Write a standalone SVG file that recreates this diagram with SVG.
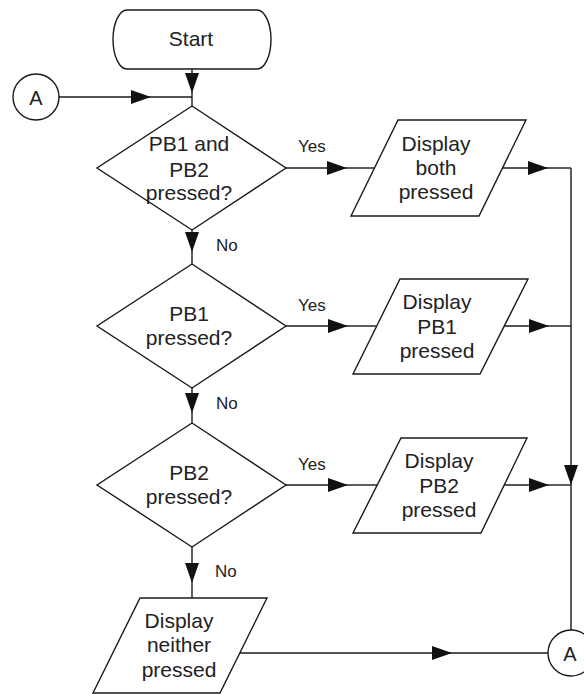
<svg xmlns="http://www.w3.org/2000/svg" width="584" height="694" viewBox="0 0 584 694">
<defs>
<marker id="arr" markerUnits="userSpaceOnUse" markerWidth="21" markerHeight="14" refX="20" refY="7" orient="auto" overflow="visible">
<path d="M0,0 L20,7 L0,14 Z" fill="#111"/>
</marker>
<style>
.s{fill:#fff;stroke:#1a1a1a;stroke-width:1.4}
.c{fill:none;stroke:#1a1a1a;stroke-width:1.4}
.t{font-family:"Liberation Sans",Arial,sans-serif;font-size:21px;fill:#222;text-anchor:middle}
.l{font-family:"Liberation Sans",Arial,sans-serif;font-size:17px;fill:#222}
</style>
</defs>
<rect width="584" height="694" fill="#fff"/>
<g id="connectors">
<line class="c" x1="192" y1="69" x2="192" y2="93" marker-end="url(#arr)"/>
<line class="c" x1="192" y1="93" x2="192" y2="106"/>
<line class="c" x1="59" y1="97" x2="151" y2="97" marker-end="url(#arr)"/>
<line class="c" x1="151" y1="97" x2="192" y2="97"/>
<line class="c" x1="192" y1="230" x2="192" y2="252" marker-end="url(#arr)"/>
<line class="c" x1="192" y1="252" x2="192" y2="264"/>
<line class="c" x1="192" y1="388" x2="192" y2="413" marker-end="url(#arr)"/>
<line class="c" x1="192" y1="413" x2="192" y2="423"/>
<line class="c" x1="192" y1="547" x2="192" y2="583" marker-end="url(#arr)"/>
<line class="c" x1="192" y1="583" x2="192" y2="598"/>
<line class="c" x1="286" y1="168" x2="347" y2="168" marker-end="url(#arr)"/>
<line class="c" x1="347" y1="168" x2="375" y2="168"/>
<line class="c" x1="286" y1="326" x2="348" y2="326" marker-end="url(#arr)"/>
<line class="c" x1="348" y1="326" x2="376" y2="326"/>
<line class="c" x1="286" y1="485" x2="348" y2="485" marker-end="url(#arr)"/>
<line class="c" x1="348" y1="485" x2="377" y2="485"/>
<line class="c" x1="502" y1="168" x2="548" y2="168" marker-end="url(#arr)"/>
<line class="c" x1="548" y1="168" x2="571" y2="168"/>
<line class="c" x1="504" y1="326" x2="549" y2="326" marker-end="url(#arr)"/>
<line class="c" x1="549" y1="326" x2="571" y2="326"/>
<line class="c" x1="504" y1="485" x2="549" y2="485" marker-end="url(#arr)"/>
<line class="c" x1="549" y1="485" x2="571" y2="485"/>
<line class="c" x1="571" y1="168" x2="571" y2="485" marker-end="url(#arr)"/>
<line class="c" x1="571" y1="485" x2="571" y2="630"/>
<line class="c" x1="240" y1="653" x2="452" y2="653" marker-end="url(#arr)"/>
<line class="c" x1="452" y1="653" x2="548" y2="653"/>
<text class="l" x="298" y="152">Yes</text>
<text class="l" x="298" y="311">Yes</text>
<text class="l" x="298" y="470">Yes</text>
<text class="l" x="216" y="251">No</text>
<text class="l" x="216" y="409">No</text>
<text class="l" x="215" y="577">No</text>
</g>
<g id="start">
<path class="s" d="M127,10 H257 A14,29.5 0 0 1 257,69 H127 A14,29.5 0 0 1 127,10 Z"/>
<text class="t" x="191" y="46">Start</text>
</g>
<g id="connA1">
<circle class="s" cx="36" cy="97" r="23"/>
<text class="t" x="36" y="105" style="font-size:20px">A</text>
</g>
<g id="dec1">
<polygon class="s" points="192,106 286,168 192,230 97,168"/>
<text class="t" x="189" y="151">PB1 and</text>
<text class="t" x="189" y="177">PB2</text>
<text class="t" x="189" y="200">pressed?</text>
</g>
<g id="out1">
<polygon class="s" points="398,120 526,120 479,216 351,216"/>
<text class="t" x="436" y="151">Display</text>
<text class="t" x="436" y="175">both</text>
<text class="t" x="436" y="199">pressed</text>
</g>
<g id="dec2">
<polygon class="s" points="192,264 286,326 192,388 97,326"/>
<text class="t" x="189" y="321">PB1</text>
<text class="t" x="189" y="345">pressed?</text>
</g>
<g id="out2">
<polygon class="s" points="400,279 528,279 480,374 353,374"/>
<text class="t" x="437" y="309">Display</text>
<text class="t" x="437" y="334">PB1</text>
<text class="t" x="437" y="358">pressed</text>
</g>
<g id="dec3">
<polygon class="s" points="192,423 286,485 192,547 97,485"/>
<text class="t" x="189" y="480">PB2</text>
<text class="t" x="189" y="504">pressed?</text>
</g>
<g id="out3">
<polygon class="s" points="401,438 527,438 481,533 353,533"/>
<text class="t" x="439" y="468">Display</text>
<text class="t" x="439" y="493">PB2</text>
<text class="t" x="439" y="517">pressed</text>
</g>
<g id="out4">
<polygon class="s" points="140,598 267,598 220,693 93,693"/>
<text class="t" x="179" y="628">Display</text>
<text class="t" x="179" y="652">neither</text>
<text class="t" x="179" y="677">pressed</text>
</g>
<g id="connA2">
<circle class="s" cx="571" cy="653" r="23"/>
<text class="t" x="570" y="661" style="font-size:20px">A</text>
</g>
</svg>
